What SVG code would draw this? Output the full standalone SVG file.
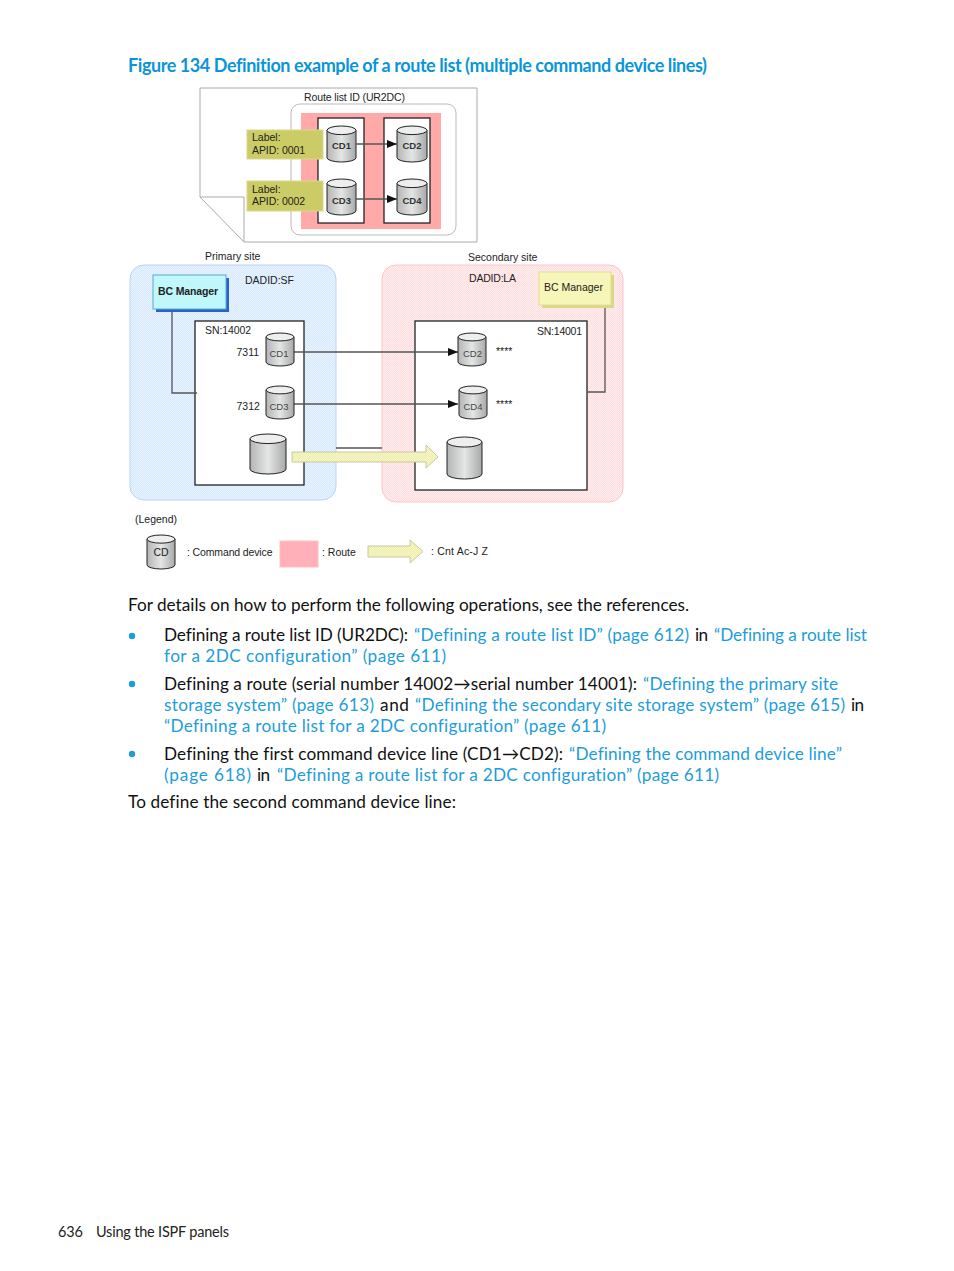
<svg xmlns="http://www.w3.org/2000/svg" width="954" height="1271" viewBox="0 0 954 1271">
<style>
text{font-family:"Liberation Sans",Arial,sans-serif;fill:#222;font-variant-ligatures:none}
.d{font-size:10.5px}
.b{font-family:Lato,"Noto Sans",sans-serif;font-size:17.2px;fill:#111}
.l{font-family:Lato,"Noto Sans",sans-serif;font-size:17.2px;fill:#1d9ddb}
.t{font-family:Lato,"Noto Sans",sans-serif;font-size:18px;font-weight:700;fill:#0b95d8}
.f{font-family:Lato,"Noto Sans",sans-serif;font-size:14.5px;fill:#222}
.cd{font-size:9.5px;text-anchor:middle;fill:#333}
.box{fill:#fff;stroke:#222;stroke-width:1.3}
.conn{fill:none;stroke:#555;stroke-width:1.3}
.cy{fill:url(#cg);stroke:#222;vector-effect:non-scaling-stroke}
.ct{fill:#eee;stroke:#222;vector-effect:non-scaling-stroke}
.yl{fill:url(#yp);stroke:#c8c8a0;stroke-width:1}
.rt{fill:#ffa9a9}
.lab{fill:#cccc66;stroke:#d8d890;stroke-width:1}
</style>
<defs>
<pattern id="bp" width="2" height="2" patternUnits="userSpaceOnUse"><rect width="2" height="2" fill="#d6e9ff"/><rect width="1" height="1" fill="#e8f3ff"/><rect x="1" y="1" width="1" height="1" fill="#e8f3ff"/></pattern>
<pattern id="pp" width="2" height="2" patternUnits="userSpaceOnUse"><rect width="2" height="2" fill="#ffdbe2"/><rect width="1" height="1" fill="#ffeeea"/><rect x="1" y="1" width="1" height="1" fill="#ffeeea"/></pattern>
<pattern id="yp" width="2" height="2" patternUnits="userSpaceOnUse"><rect width="2" height="2" fill="#eeeea8"/><rect width="1" height="1" fill="#f6f6cc"/><rect x="1" y="1" width="1" height="1" fill="#f6f6cc"/></pattern>
<linearGradient id="cg"><stop offset="0" stop-color="#b4b4b4"/><stop offset=".5" stop-color="#e4e6e6"/><stop offset="1" stop-color="#a8a8a8"/></linearGradient>
<marker id="ah" viewBox="0 0 10 8" refX="10" refY="4" markerWidth="10" markerHeight="8" markerUnits="userSpaceOnUse" orient="auto"><path d="M0 0L10 4L0 8Z" fill="#111"/></marker>
<g id="cyl"><path class="cy" d="M0 12V88A50 12 0 0 0 100 88V12Z"/><ellipse class="ct" cx="50" cy="12" rx="50" ry="12"/></g>
</defs>

<text class="t" x="128" y="72" textLength="579" lengthAdjust="spacing">Figure 134 Definition example of a route list (multiple command device lines)</text>

<g id="route-list">
<path d="M200 88H477V242H244L200 197Z" fill="#fff" stroke="#aaa"/>
<path d="M200 197H244V242" fill="none" stroke="#aaa"/>
<text class="d" x="304" y="101" textLength="101" lengthAdjust="spacing">Route list ID (UR2DC)</text>
<rect x="291" y="104" width="165" height="131" rx="9" fill="#fff" stroke="#bbb"/>
<rect class="rt" x="301" y="113" width="140" height="116"/>
<rect class="box" x="318" y="118" width="46" height="105"/>
<rect class="box" x="384" y="118" width="46" height="105"/>
</g>
<g id="label-1"><rect class="lab" x="247" y="130" width="76" height="29"/><text class="d" x="252" y="141">Label:</text><text class="d" x="252" y="153.500" textLength="53" lengthAdjust="spacing">APID: 0001</text></g>
<g id="label-2"><rect class="lab" x="247" y="181" width="76" height="30"/><text class="d" x="252" y="193">Label:</text><text class="d" x="252" y="205" textLength="53" lengthAdjust="spacing">APID: 0002</text></g>
<g id="top-cd1"><use href="#cyl" transform="translate(327 126) scale(.29 .36)"/><text class="cd" x="341.500" y="149" font-weight="700">CD1</text></g>
<g id="top-cd2"><use href="#cyl" transform="translate(397 126) scale(.3 .36)"/><text class="cd" x="412" y="149" font-weight="700">CD2</text></g>
<g id="top-cd3"><use href="#cyl" transform="translate(327 179) scale(.29 .36)"/><text class="cd" x="341.500" y="204" font-weight="700">CD3</text></g>
<g id="top-cd4"><use href="#cyl" transform="translate(397 179) scale(.3 .36)"/><text class="cd" x="412" y="204" font-weight="700">CD4</text></g>

<text class="d" x="205" y="260">Primary site</text>
<text class="d" x="468" y="261">Secondary site</text>

<g id="primary-site">
<rect x="130" y="265" width="206" height="235" rx="14" fill="url(#bp)" stroke="#b8d4f4"/>
<text class="d" x="245" y="284">DADID:SF</text>
</g>
<g id="secondary-site">
<rect x="382" y="265" width="241" height="237" rx="14" fill="url(#pp)" stroke="#fbc4cc"/>
<text class="d" x="469" y="282" textLength="47" lengthAdjust="spacing">DADID:LA</text>
</g>
<g id="sn-14002"><rect class="box" x="195" y="321" width="109" height="164"/><text class="d" x="205" y="334" textLength="46" lengthAdjust="spacing">SN:14002</text><text class="d" x="236.500" y="356">7311</text><text class="d" x="236.500" y="410">7312</text></g>
<g id="sn-14001"><rect class="box" x="415" y="321" width="172" height="169"/><text class="d" x="537" y="335" textLength="45" lengthAdjust="spacing">SN:14001</text><text class="d" x="496" y="355">****</text><text class="d" x="496" y="408">****</text></g>

<g id="connectors">
<path class="conn" d="M356 144H397" stroke-width="2" marker-end="url(#ah)"/>
<path class="conn" d="M356 199H397" stroke-width="2" marker-end="url(#ah)"/>
<path class="conn" d="M172 309V393H197"/>
<path class="conn" d="M605 305V392H587"/>
<path class="conn" d="M294 352H458" marker-end="url(#ah)"/>
<path class="conn" d="M294 404H458" marker-end="url(#ah)"/>
<path class="conn" d="M336 448H382"/>
<path class="yl" d="M292 452H426V445L438 457L426 468V462H292Z"/>
</g>

<g id="bc-primary"><rect x="156" y="278" width="73" height="34" fill="#2a62c8"/><rect x="153" y="275" width="73" height="34" fill="#bff7fb" stroke="#5aa8d8"/><text class="d" x="158" y="295" font-weight="700" textLength="60" lengthAdjust="spacing">BC Manager</text></g>
<g id="bc-secondary"><rect x="542" y="275" width="72" height="33" fill="#d8d888"/><rect x="539" y="272" width="72" height="33" fill="#f6f6b8" stroke="#e0e090"/><text class="d" x="544" y="291">BC Manager</text></g>

<g id="p-cd1"><use href="#cyl" transform="translate(266 333) scale(.28 .33)"/><text class="cd" x="279" y="357" style="fill:#444">CD1</text></g>
<g id="p-cd3"><use href="#cyl" transform="translate(266 386) scale(.28 .33)"/><text class="cd" x="279" y="410" style="fill:#444">CD3</text></g>
<g id="p-vol"><use href="#cyl" transform="translate(250 434) scale(.36 .4)"/></g>
<g id="s-cd2"><use href="#cyl" transform="translate(458 333) scale(.28 .33)"/><text class="cd" x="472.500" y="357" style="fill:#444">CD2</text></g>
<g id="s-cd4"><use href="#cyl" transform="translate(459 386) scale(.28 .33)"/><text class="cd" x="473" y="410" style="fill:#444">CD4</text></g>
<g id="s-vol"><use href="#cyl" transform="translate(447 437) scale(.35 .42)"/></g>

<g id="legend">
<text class="d" x="135" y="523" font-size="10">(Legend)</text>
<use href="#cyl" transform="translate(147 535) scale(.28 .34)"/>
<text x="161" y="556" font-size="10.500" text-anchor="middle">CD</text>
<text class="d" x="187" y="556" textLength="85.500" lengthAdjust="spacing">: Command device</text>
<rect x="280" y="541" width="38" height="26" fill="#ffb0b8" stroke="#ffc0c0"/>
<text class="d" x="322" y="556">: Route</text>
<path class="yl" d="M368 546H410V540L423 551.500L410 563V557H368Z"/>
<text class="d" x="431" y="555" textLength="57" lengthAdjust="spacing">: Cnt Ac-J Z</text>
</g>

<text class="b" x="128" y="611" textLength="561" lengthAdjust="spacing">For details on how to perform the following operations, see the references.</text>
<circle cx="132" cy="636" r="3.200" fill="#1d9ddb"/>
<text class="b" x="164" y="641" textLength="244" lengthAdjust="spacing">Defining a route list ID (UR2DC):</text>
<text class="l" x="414" y="641" textLength="275" lengthAdjust="spacing">“Defining a route list ID” (page 612)</text>
<text class="b" x="695" y="641" textLength="13" lengthAdjust="spacing">in</text>
<text class="l" x="714" y="641" textLength="153" lengthAdjust="spacing">“Defining a route list</text>
<text class="l" x="164" y="662" textLength="282" lengthAdjust="spacing">for a 2DC configuration” (page 611)</text>
<circle cx="132" cy="684" r="3.200" fill="#1d9ddb"/>
<text class="b" x="164" y="690" textLength="473" lengthAdjust="spacing">Defining a route (serial number 14002→serial number 14001):</text>
<text class="l" x="643" y="690" textLength="195" lengthAdjust="spacing">“Defining the primary site</text>
<text class="l" x="164" y="711" textLength="210" lengthAdjust="spacing">storage system” (page 613)</text>
<text class="b" x="380" y="711" textLength="29" lengthAdjust="spacing">and</text>
<text class="l" x="415" y="711" textLength="430" lengthAdjust="spacing">“Defining the secondary site storage system” (page 615)</text>
<text class="b" x="851" y="711" textLength="13" lengthAdjust="spacing">in</text>
<text class="l" x="164" y="732" textLength="442" lengthAdjust="spacing">“Defining a route list for a 2DC configuration” (page 611)</text>
<circle cx="132" cy="754" r="3.200" fill="#1d9ddb"/>
<text class="b" x="164" y="760" textLength="399" lengthAdjust="spacing">Defining the first command device line (CD1→CD2):</text>
<text class="l" x="569" y="760" textLength="273" lengthAdjust="spacing">“Defining the command device line”</text>
<text class="l" x="164" y="781" textLength="87" lengthAdjust="spacing">(page 618)</text>
<text class="b" x="257" y="781" textLength="13" lengthAdjust="spacing">in</text>
<text class="l" x="277" y="781" textLength="442" lengthAdjust="spacing">“Defining a route list for a 2DC configuration” (page 611)</text>
<text class="b" x="128" y="808" textLength="328" lengthAdjust="spacing">To define the second command device line:</text>
<text class="f" x="58" y="1237" textLength="25" lengthAdjust="spacing">636</text>
<text class="f" x="96" y="1237" textLength="133" lengthAdjust="spacing">Using the ISPF panels</text>
</svg>
